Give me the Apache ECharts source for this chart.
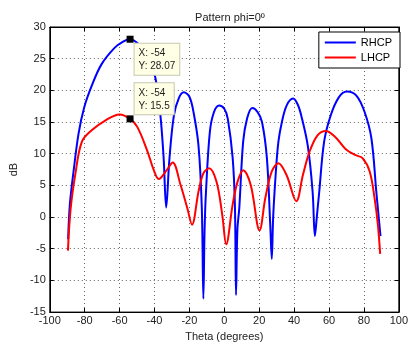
<!DOCTYPE html>
<html>
<head>
<meta charset="utf-8">
<script src="https://cdn.jsdelivr.net/npm/echarts@6/dist/echarts.min.js"></script>
<style>
  html, body { margin: 0; padding: 0; background: #fff; }
  #main { width: 411px; height: 347px; }
</style>
</head>
<body>
<div id="main"></div>
<script>
// values
var rhcpTheta = [-89.5, -88.5, -86.3, -83.5, -80.3, -76, -70.4, -62.9, -58, -54, -48.8, -43.2, -39.5, -36.7, -34.8, -33.3,
  -31.5, -28.9, -26, -23.2, -20, -17.6, -14.8, -12.9, -12, -11.3, -10.5, -8.3, -6, -3, 0, 2, 4.8, 6.1, 6.7, 7.5, 8.6,
  10.8, 13, 16, 19, 21.6, 24.4, 26.3, 27.2, 28, 29.5, 31, 33, 35.7, 39.4, 42, 44.1, 47.8, 50.6, 51.9, 53, 54.4, 57.2,
  60.9, 65.6, 70.3, 75.9, 80.5, 84.3, 87.1, 89.5];
var rhcpDb = [-3.5, 2, 7.4, 13.2, 17.3, 20.7, 24.1, 26.7, 27.7, 28.07, 27.2, 25.1, 22.0, 16.3, 9.5, 1.5,
  9, 16.0, 18.8, 19.7, 19.0, 16.5, 11.3, 1.5, -12.9, -2, 4.0, 13.4, 16.5, 17.6, 17.1, 15.5, 9.3, 1.5, -12.3, -2, 1.5,
  11.9, 15.5, 17.2, 16.6, 15.0, 9.3, -1.1, -6.6, 0, 7, 11.9, 15, 17.6, 18.7, 17.8, 16.0, 11.3, 4.0, -3.0, 0, 4.0, 11.9,
  16.0, 18.9, 19.8, 19.1, 16.5, 12.4, 4.0, -3.0];

var lhcpTheta = [-89.6, -88.1, -85.3, -81.6, -76, -68.5, -60, -54, -49.8, -44.2, -40.4, -37.6, -33, -29.6, -25.1, -21.3,
  -18.5, -14.8, -12, -8.7, -4.5, -1.2, 1.1, 4.8, 7.6, 10.8, 15.1, 20.2, 23.5, 27.2, 31, 35.7, 41.3, 45, 48.8, 53.4,
  58.1, 63.7, 69.3, 74.9, 79.2, 83.3, 86.1, 88, 89.3];
var lhcpDb = [-5.3, 1.2, 6.9, 11.9, 13.7, 15.2, 16.2, 15.5, 14.2, 10.5, 7.4, 6.0, 7.4, 8.6, 5.1, 1.5,
  -1.2, 4.0, 6.9, 7.7, 5.6, 0.4, -4.3, 2.0, 5.6, 7.4, 5.1, -2.1, 3.0, 7.2, 8.5, 6.6, 2.5, 6.6, 10.3, 12.9,
  13.6, 12.6, 10.8, 9.8, 9.3, 7.2, 3.0, -1.2, -5.8];

var tipTheta = [-54, -54];
var tipDb = [28.07, 15.5];

function pairs(xs, ys) {
  return xs.map(function (x, i) { return [x, ys[i]]; });
}

var font = 'Liberation Sans, Arial, sans-serif';
var gridLine = { show: true, lineStyle: { color: '#666', type: [1, 3] } };
var tick = { inside: true, length: 4, lineStyle: { color: '#000' } };
var chart = echarts.init(document.getElementById('main'));
chart.setOption({
  backgroundColor: '#fff',
  animation: false,
  title: {
    text: 'Pattern phi=0º',
    left: 225, top: 7, textAlign: 'center',
    textStyle: { fontFamily: font, fontSize: 11, fontWeight: 'normal', color: '#222' }
  },
  legend: {
    orient: 'vertical',
    right: 11, top: 32,
    padding: [5, 8, 5, 6],
    itemGap: 4,
    icon: 'rect',
    itemWidth: 31, itemHeight: 2,
    backgroundColor: '#fff',
    borderColor: '#000', borderWidth: 1,
    textStyle: { fontFamily: font, fontSize: 11, color: '#000' },
    data: ['RHCP', 'LHCP']
  },
  grid: { left: 46, right: 8, top: 27, bottom: 31, show: true, borderColor: '#000', borderWidth: 1 },
  xAxis: [{
    type: 'value', min: -100, max: 100, interval: 20,
    name: 'Theta (degrees)', nameLocation: 'middle', nameGap: 17,
    nameTextStyle: { fontFamily: font, fontSize: 11, color: '#222' },
    axisLine: { onZero: false, lineStyle: { color: '#000' } },
    axisTick: tick,
    axisLabel: { fontFamily: font, fontSize: 11, color: '#222', margin: 3 },
    splitLine: gridLine
  }, {
    type: 'value', min: -100, max: 100, interval: 20, position: 'top',
    axisLine: { onZero: false, lineStyle: { color: '#000' } },
    axisTick: tick, axisLabel: { show: false }, splitLine: { show: false }
  }],
  yAxis: [{
    type: 'value', min: -15, max: 30, interval: 5,
    name: 'dB', nameLocation: 'middle', nameGap: 24,
    nameTextStyle: { fontFamily: font, fontSize: 11, color: '#222' },
    axisLine: { onZero: false, lineStyle: { color: '#000' } },
    axisTick: tick,
    axisLabel: { fontFamily: font, fontSize: 11, color: '#222', margin: 4 },
    splitLine: gridLine
  }, {
    type: 'value', min: -15, max: 30, interval: 5, position: 'right',
    axisLine: { onZero: false, lineStyle: { color: '#000' } },
    axisTick: tick, axisLabel: { show: false }, splitLine: { show: false }
  }],
  series: [
    {
      name: 'RHCP', type: 'line', symbol: 'none', smooth: 0.35,
      lineStyle: { color: '#0000ff', width: 2 }, itemStyle: { color: '#0000ff' },
      data: pairs(rhcpTheta, rhcpDb)
    },
    {
      name: 'LHCP', type: 'line', symbol: 'none', smooth: 0.35,
      lineStyle: { color: '#ff0000', width: 2 }, itemStyle: { color: '#ff0000' },
      data: pairs(lhcpTheta, lhcpDb)
    },
    {
      name: 'tips', type: 'scatter', symbol: 'rect', symbolSize: 7, z: 5,
      itemStyle: { color: '#000', opacity: 1 },
      emphasis: { disabled: true },
      label: {
        show: true,
        fontFamily: font, fontSize: 10, color: '#222', lineHeight: 13,
        backgroundColor: '#ffffe6', borderColor: '#c8c8b0', borderWidth: 1,
        padding: [3, 4, 2, 4],
        formatter: function (p) { return 'X: ' + p.value[0] + '\nY: ' + p.value[1]; }
      },
      data: [
        { value: [tipTheta[0], tipDb[0]], label: { position: [8, 8] } },
        { value: [tipTheta[1], tipDb[1]], label: { position: [8, -32] } }
      ]
    }
  ]
});
</script>
</body>
</html>
